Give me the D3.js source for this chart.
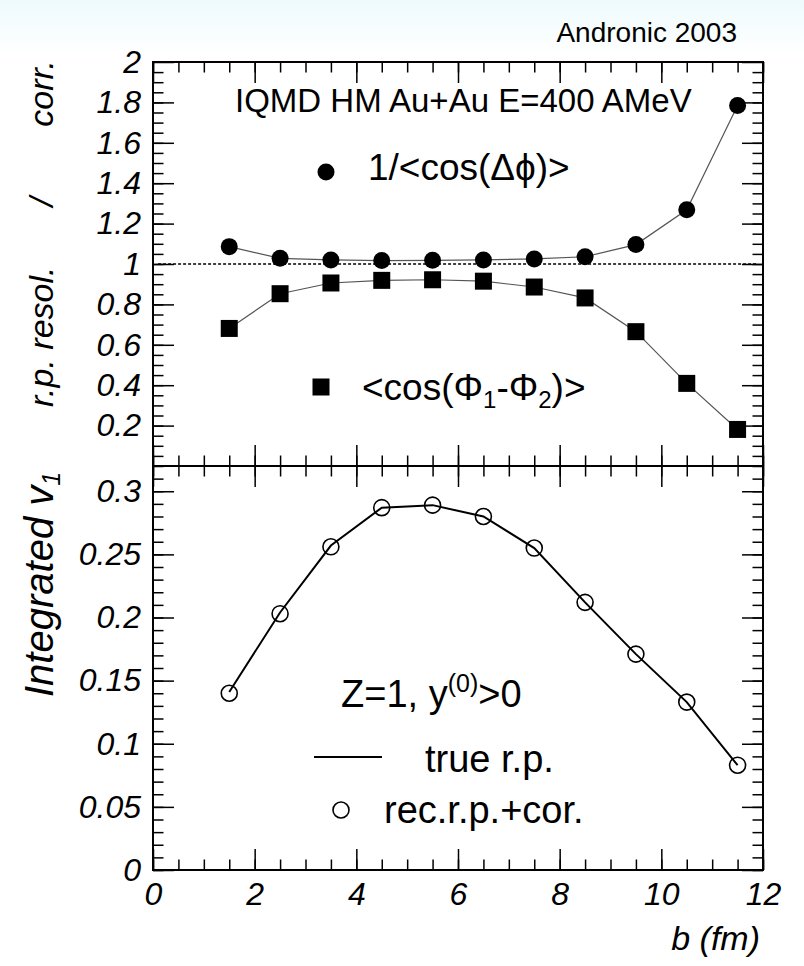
<!DOCTYPE html>
<html>
<head>
<meta charset="utf-8">
<script src="https://cdnjs.cloudflare.com/ajax/libs/d3/7.8.5/d3.min.js"></script>
<style>
  body { margin: 0; background: #fff; }
  svg { display: block; font-family: "Liberation Sans", Arial, sans-serif; }
  .tick text { font-style: italic; font-size: 32px; fill: #000; }
  .tick line { stroke: #000; stroke-width: 1.5; }
</style>
</head>
<body>
<svg id="chart" width="804" height="966"></svg>
<script>
// ----- DATA -----

var impact = [1.5, 2.5, 3.5, 4.5, 5.5, 6.5, 7.5, 8.5, 9.5, 10.5, 11.5];

// top panel: correction factor and reaction plane resolution
var corrFactor = [1.086, 1.028, 1.020, 1.017, 1.018, 1.020, 1.025, 1.036, 1.096, 1.268, 1.785];
var resolution = [0.681, 0.853, 0.906, 0.919, 0.922, 0.915, 0.886, 0.832, 0.665, 0.409, 0.181];

// bottom panel: integrated v1
var v1True = [0.141, 0.204, 0.257, 0.287, 0.289, 0.280, 0.255, 0.212, 0.171, 0.133, 0.083];
var v1Rec = [0.140, 0.203, 0.256, 0.287, 0.289, 0.280, 0.255, 0.212, 0.171, 0.133, 0.083];

var xTicks = [0, 2, 4, 6, 8, 10, 12];
var topTicks = [0.2, 0.4, 0.6, 0.8, 1, 1.2, 1.4, 1.6, 1.8, 2];
var topTickLabels = ["0.2", "0.4", "0.6", "0.8", "1", "1.2", "1.4", "1.6", "1.8", "2"];
var botTicks = [0, 0.05, 0.1, 0.15, 0.2, 0.25, 0.3];
var botTickLabels = ["0", "0.05", "0.1", "0.15", "0.2", "0.25", "0.3"];

// ----- SCALES -----

var svg = d3.select("#chart");
var plotLeft = 153, plotRight = 763, plotTop = 62, plotMid = 466, plotBottom = 870;
var majorLen = 21, minorLen = 10.5;

var x = d3.scaleLinear().domain([0, 12]).range([plotLeft, plotRight]);
var yTop = d3.scaleLinear().domain([0, 2]).range([plotMid, plotTop]);
var yBot = d3.scaleLinear().domain([0, 0.32]).range([plotBottom, plotMid]);

var xMinor = d3.range(0, 25).map(function(i) { return i * 0.5; });
var topMinor = d3.range(0, 40).map(function(i) { return i * 0.05; });
var botMinor = d3.range(0, 32).map(function(i) { return i * 0.01; });

// light tint behind the header strip
var grad = svg.append("defs").append("linearGradient")
    .attr("id", "tint").attr("x1", 0).attr("y1", 0).attr("x2", 0).attr("y2", 1);
grad.append("stop").attr("offset", "0%").attr("stop-color", "#eefafd");
grad.append("stop").attr("offset", "100%").attr("stop-color", "#ffffff");
svg.append("rect").attr("width", 804).attr("height", 55).attr("fill", "url(#tint)");

// ----- AXES -----

function ticks(axis, pos, values, len, labels) {
    var a = axis.tickValues(values).tickSize(-len).tickPadding(12);
    if (labels) {
        a.tickFormat(function(d, i) { return labels[i]; });
    } else {
        a.tickFormat("");
    }
    var g = svg.append("g").attr("transform", pos).call(a);
    g.select(".domain").remove();
    return g;
}

// x ticks: top of upper panel, both sides of the split, bottom
ticks(d3.axisTop(x), "translate(0," + plotTop + ")", xTicks, majorLen);
ticks(d3.axisTop(x), "translate(0," + plotTop + ")", xMinor, minorLen);
ticks(d3.axisBottom(x), "translate(0," + plotMid + ")", xTicks, majorLen);
ticks(d3.axisBottom(x), "translate(0," + plotMid + ")", xMinor, minorLen);
ticks(d3.axisTop(x), "translate(0," + plotMid + ")", xTicks, majorLen);
ticks(d3.axisTop(x), "translate(0," + plotMid + ")", xMinor, minorLen);
ticks(d3.axisBottom(x), "translate(0," + plotBottom + ")", xTicks, majorLen, xTicks.map(String));
ticks(d3.axisBottom(x), "translate(0," + plotBottom + ")", xMinor, minorLen);

// y ticks upper panel
ticks(d3.axisLeft(yTop), "translate(" + plotLeft + ",0)", topTicks, majorLen, topTickLabels);
ticks(d3.axisLeft(yTop), "translate(" + plotLeft + ",0)", topMinor, minorLen);
ticks(d3.axisRight(yTop), "translate(" + plotRight + ",0)", topTicks, majorLen);
ticks(d3.axisRight(yTop), "translate(" + plotRight + ",0)", topMinor, minorLen);

// y ticks lower panel
ticks(d3.axisLeft(yBot), "translate(" + plotLeft + ",0)", botTicks, majorLen, botTickLabels);
ticks(d3.axisLeft(yBot), "translate(" + plotLeft + ",0)", botMinor, minorLen);
ticks(d3.axisRight(yBot), "translate(" + plotRight + ",0)", botTicks, majorLen);
ticks(d3.axisRight(yBot), "translate(" + plotRight + ",0)", botMinor, minorLen);

// frames
svg.append("rect")
    .attr("x", plotLeft).attr("y", plotTop)
    .attr("width", plotRight - plotLeft).attr("height", plotBottom - plotTop)
    .attr("fill", "none").attr("stroke", "#000").attr("stroke-width", 2);
svg.append("line")
    .attr("x1", plotLeft).attr("x2", plotRight)
    .attr("y1", plotMid).attr("y2", plotMid)
    .attr("stroke", "#000").attr("stroke-width", 2);

// ----- UPPER PANEL -----

svg.append("line")
    .attr("x1", x(0.1)).attr("x2", x(11.9))
    .attr("y1", yTop(1)).attr("y2", yTop(1))
    .attr("stroke", "#000").attr("stroke-width", 1.5)
    .attr("stroke-dasharray", "3,2");

var lineTop = d3.line()
    .x(function(d, i) { return x(impact[i]); })
    .y(function(d) { return yTop(d); });

svg.append("path").datum(corrFactor)
    .attr("d", lineTop)
    .attr("fill", "none").attr("stroke", "#555").attr("stroke-width", 1.2);
svg.append("path").datum(resolution)
    .attr("d", lineTop)
    .attr("fill", "none").attr("stroke", "#555").attr("stroke-width", 1.2);

svg.selectAll(".dot").data(corrFactor).enter().append("circle")
    .attr("class", "dot")
    .attr("cx", function(d, i) { return x(impact[i]); })
    .attr("cy", function(d) { return yTop(d); })
    .attr("r", 8.5)
    .attr("fill", "#000");

svg.selectAll(".sq").data(resolution).enter().append("rect")
    .attr("class", "sq")
    .attr("x", function(d, i) { return x(impact[i]) - 8.5; })
    .attr("y", function(d) { return yTop(d) - 8.5; })
    .attr("width", 17).attr("height", 17)
    .attr("fill", "#000");

// ----- LOWER PANEL -----

var lineBot = d3.line()
    .x(function(d, i) { return x(impact[i]); })
    .y(function(d) { return yBot(d); });

svg.append("path").datum(v1True)
    .attr("d", lineBot)
    .attr("fill", "none").attr("stroke", "#000").attr("stroke-width", 2);

svg.selectAll(".open").data(v1Rec).enter().append("circle")
    .attr("class", "open")
    .attr("cx", function(d, i) { return x(impact[i]); })
    .attr("cy", function(d) { return yBot(d); })
    .attr("r", 8)
    .attr("fill", "none").attr("stroke", "#000").attr("stroke-width", 1.6);

// ----- TEXTS AND LEGENDS -----

svg.append("text").attr("x", 737).attr("y", 42)
    .attr("text-anchor", "end").attr("font-size", 28)
    .text("Andronic 2003");

svg.append("text").attr("x", 235).attr("y", 112)
    .attr("font-size", 33)
    .text("IQMD HM Au+Au E=400 AMeV");

svg.append("circle").attr("cx", 326).attr("cy", 172).attr("r", 8.5).attr("fill", "#000");
svg.append("text").attr("x", 368).attr("y", 180)
    .attr("font-size", 37)
    .text("1/<cos(\u0394\u03d5)>");

svg.append("rect").attr("x", 321 - 8.5).attr("y", 387 - 8.5)
    .attr("width", 17).attr("height", 17).attr("fill", "#000");
var t2 = svg.append("text").attr("x", 362).attr("y", 400).attr("font-size", 37);
t2.append("tspan").text("<cos(\u03a6");
t2.append("tspan").attr("font-size", 24).attr("dy", 8).text("1");
t2.append("tspan").attr("dy", -8).text("-\u03a6");
t2.append("tspan").attr("font-size", 24).attr("dy", 8).text("2");
t2.append("tspan").attr("dy", -8).text(")>");

var t3 = svg.append("text").attr("x", 341).attr("y", 707).attr("font-size", 38);
t3.append("tspan").text("Z=1, y");
t3.append("tspan").attr("font-size", 25).attr("dy", -15).text("(0)");
t3.append("tspan").attr("dy", 15).text(">0");

svg.append("line").attr("x1", 314).attr("x2", 382).attr("y1", 757).attr("y2", 757)
    .attr("stroke", "#000").attr("stroke-width", 2);
svg.append("text").attr("x", 425).attr("y", 772).attr("font-size", 38).text("true r.p.");

svg.append("circle").attr("cx", 341).attr("cy", 810).attr("r", 8)
    .attr("fill", "none").attr("stroke", "#000").attr("stroke-width", 1.6);
svg.append("text").attr("x", 384).attr("y", 823).attr("font-size", 38).text("rec.r.p.+cor.");

// axis titles
function vtext(txt, xpos, ypos, size, anchor) {
    return svg.append("text")
        .attr("transform", "translate(" + xpos + "," + ypos + ") rotate(-90)")
        .attr("text-anchor", anchor)
        .attr("font-size", size)
        .attr("font-style", "italic")
        .text(txt);
}
vtext("r.p. resol.", 53, 407, 34, "start");
vtext("/", 53, 197, 34, "end");
vtext("corr.", 53, 60, 34, "end");

var iv = vtext("Integrated v", 53, 697, 40, "start");
iv.append("tspan").attr("font-size", 25).attr("dy", 7).text("1");

svg.append("text").attr("x", 760).attr("y", 950)
    .attr("text-anchor", "end").attr("font-size", 34).attr("font-style", "italic")
    .text("b (fm)");
</script>
</body>
</html>
